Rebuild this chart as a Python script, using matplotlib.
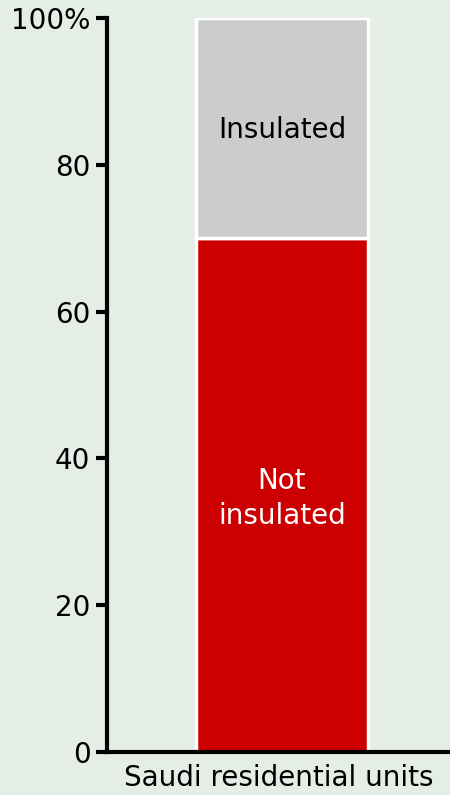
import matplotlib.pyplot as plt

categories = ["Saudi residential units"]
not_insulated = [70]
insulated = [30]
segment_labels = ["Not\ninsulated", "Insulated"]
y_ticks = [0, 20, 40, 60, 80, 100]
y_tick_labels = ["0", "20", "40", "60", "80", "100%"]

BG = "#e4eee6"
RED = "#cc0000"
GREY = "#cccccc"

plt.rcParams["font.family"] = ["DejaVu Sans"]

fig = plt.figure(figsize=(4.5, 7.95), dpi=100)
fig.patch.set_facecolor(BG)
ax = fig.add_axes([0.238, 0.054, 0.762, 0.9235])
ax.set_facecolor(BG)

x = [0]
ax.bar(x, not_insulated, width=0.5, color=RED, edgecolor="white", linewidth=2.5)
ax.bar(x, insulated, bottom=not_insulated, width=0.5, color=GREY,
       edgecolor="white", linewidth=2.5)

# segment labels in the middle of each stack piece
ax.text(0, not_insulated[0] / 2 - 0.4, segment_labels[0], color="white",
        fontsize=20, ha="center", va="center", linespacing=1.32)
ax.text(0, not_insulated[0] + insulated[0] / 2 - 0.3, segment_labels[1],
        color="black", fontsize=20, ha="center", va="center")

ax.set_xlim(-0.51, 0.49)
ax.set_ylim(0, 100)
ax.set_yticks(y_ticks)
ax.set_yticklabels(y_tick_labels, fontsize=20)
ax.set_xticks([])
ax.set_xlabel(categories[0], fontsize=20)
ax.xaxis.set_label_coords(0.5, -0.016, transform=ax.transAxes)
ax.xaxis.label.set_va("top")

ax.tick_params(axis="y", length=8, width=3, direction="out", pad=4)
for side in ("top", "right"):
    ax.spines[side].set_visible(False)
for side in ("left", "bottom"):
    ax.spines[side].set_linewidth(3)
ax.spines["left"].set_bounds(0, 100)

fig.savefig("out.png", dpi=100, facecolor=BG)
